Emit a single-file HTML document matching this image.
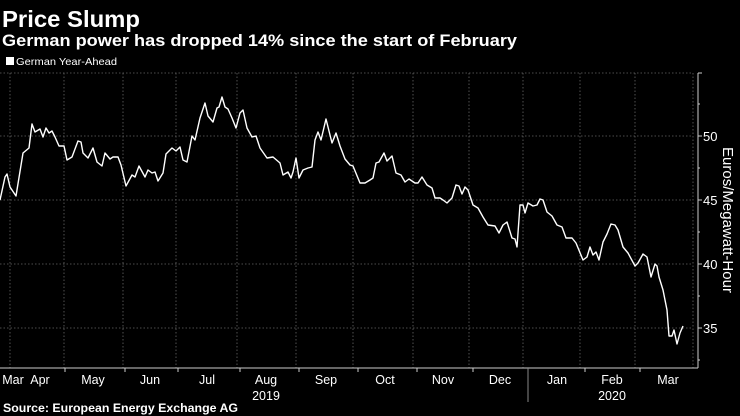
<!DOCTYPE html>
<html><head><meta charset="utf-8"><style>
body{margin:0;background:#000;width:740px;height:416px;overflow:hidden}
svg{display:block}
text{font-family:"Liberation Sans",sans-serif;fill:#fff}
</style></head><body>
<svg width="740" height="416" viewBox="0 0 740 416">
<rect width="740" height="416" fill="#000"/>
<text x="2" y="27" font-size="23" font-weight="bold" textLength="138" lengthAdjust="spacingAndGlyphs">Price Slump</text>
<text x="2" y="46" font-size="17" font-weight="bold" textLength="515" lengthAdjust="spacingAndGlyphs">German power has dropped 14% since the start of February</text>
<rect x="6" y="57" width="8" height="8" fill="#fff"/>
<text x="16" y="65" font-size="10.5" textLength="101" lengthAdjust="spacingAndGlyphs">German Year-Ahead</text>
<g stroke="#666" stroke-width="0.8" stroke-dasharray="1.5,2">
<line x1="0" y1="73" x2="693" y2="73"/>
<line x1="0" y1="136" x2="693" y2="136"/>
<line x1="0" y1="200" x2="693" y2="200"/>
<line x1="0" y1="264" x2="693" y2="264"/>
<line x1="0" y1="328" x2="693" y2="328"/>
<line x1="10" y1="73" x2="10" y2="368"/>
<line x1="64" y1="73" x2="64" y2="368"/>
<line x1="123" y1="73" x2="123" y2="368"/>
<line x1="176" y1="73" x2="176" y2="368"/>
<line x1="237" y1="73" x2="237" y2="368"/>
<line x1="296" y1="73" x2="296" y2="368"/>
<line x1="353" y1="73" x2="353" y2="368"/>
<line x1="413" y1="73" x2="413" y2="368"/>
<line x1="469" y1="73" x2="469" y2="368"/>
<line x1="523" y1="73" x2="523" y2="368"/>
<line x1="580" y1="73" x2="580" y2="368"/>
<line x1="635" y1="73" x2="635" y2="368"/>
<line x1="693" y1="73" x2="693" y2="368"/>
</g>
<g stroke="#ccc" stroke-width="1" fill="none">
<line x1="698" y1="73" x2="698" y2="368"/>
<line x1="0" y1="368" x2="698" y2="368"/>
<line x1="698" y1="73" x2="702" y2="73"/>
<line x1="698" y1="136" x2="702" y2="136"/><line x1="698" y1="200" x2="702" y2="200"/>
<line x1="698" y1="264" x2="702" y2="264"/><line x1="698" y1="328" x2="702" y2="328"/>
<line x1="698" y1="104" x2="700" y2="104"/><line x1="698" y1="168" x2="700" y2="168"/>
<line x1="698" y1="232" x2="700" y2="232"/><line x1="698" y1="296" x2="700" y2="296"/>
<line x1="698" y1="360" x2="700" y2="360"/>
<line x1="65" y1="368" x2="65" y2="372"/><line x1="125" y1="368" x2="125" y2="372"/>
<line x1="178" y1="368" x2="178" y2="372"/><line x1="240" y1="368" x2="240" y2="372"/>
<line x1="299" y1="368" x2="299" y2="372"/><line x1="358" y1="368" x2="358" y2="372"/>
<line x1="417" y1="368" x2="417" y2="372"/><line x1="473" y1="368" x2="473" y2="372"/>
<line x1="528" y1="368" x2="528" y2="402" stroke="#888"/><line x1="585" y1="368" x2="585" y2="372"/>
<line x1="640" y1="368" x2="640" y2="372"/>
</g>
<g font-size="13">
<text x="703" y="141">50</text><text x="703" y="205">45</text>
<text x="703" y="269">40</text><text x="703" y="333">35</text>
</g>
<text transform="translate(723,220) rotate(90)" font-size="15" text-anchor="middle">Euros/Megawatt-Hour</text>
<g font-size="12.5" text-anchor="middle">
<text x="13" y="384">Mar</text><text x="40" y="384">Apr</text><text x="93" y="384">May</text>
<text x="150" y="384">Jun</text><text x="207" y="384">Jul</text><text x="266" y="384">Aug</text>
<text x="326" y="384">Sep</text><text x="385" y="384">Oct</text><text x="443" y="384">Nov</text>
<text x="500" y="384">Dec</text><text x="557" y="384">Jan</text><text x="612" y="384">Feb</text>
<text x="668" y="384">Mar</text>
<text x="266" y="400">2019</text><text x="612" y="400">2020</text>
</g>
<text x="3" y="412" font-size="11.5" font-weight="bold" textLength="235" lengthAdjust="spacingAndGlyphs">Source: European Energy Exchange AG</text>
<polyline fill="none" stroke="#fff" stroke-width="1.4" stroke-linejoin="round" points="0,200 5,177 7,174 10,187 16,196 23,153 29,148 32,124 35,132 40,129 43,137 46,128 49,133 52,131 55,137 59,146 64,146 67,160 72,157 78,141 81,142 83,153 88,158 93,148 97,162 102,166 105,153 110,159 113,157 118,157 121,165 126,186 132,175 135,177 139,166 145,177 148,170 152,173 155,172 158,181 163,173 166,154 172,148 176,151 180,147 183,160 187,162 192,136 195,140 200,118 205,103 208,116 213,122 217,108 219,107 222,97 225,107 228,109 232,118 236,128 240,113 243,110 247,128 252,137 256,136 260,148 267,158 273,157 280,163 283,175 288,172 291,178 293,172 296,158 299,178 303,170 308,168 312,167 315,140 318,132 321,140 326,119 332,143 336,133 340,146 345,159 350,165 353,166 360,183 365,183 370,180 373,178 376,163 379,162 384,153 387,161 392,156 396,173 401,175 405,182 409,179 415,183 418,183 422,177 427,185 432,188 435,198 440,198 443,200 447,203 452,198 456,185 459,186 462,194 465,187 468,190 473,205 478,208 483,217 488,225 495,226 499,233 503,225 507,222 512,238 515,239 517,247 520,205 523,205 525,213 528,203 533,206 537,205 540,199 543,200 547,212 552,216 557,225 562,227 566,238 572,238 576,243 583,260 587,257 590,247 593,255 596,252 599,260 603,242 607,234 611,224 615,225 618,230 623,247 628,253 635,266 638,263 643,254 647,257 651,277 655,264 657,266 659,277 663,290 667,310 669,336 672,336 674,330 677,344 680,333 683,326"/>
</svg>
</body></html>
